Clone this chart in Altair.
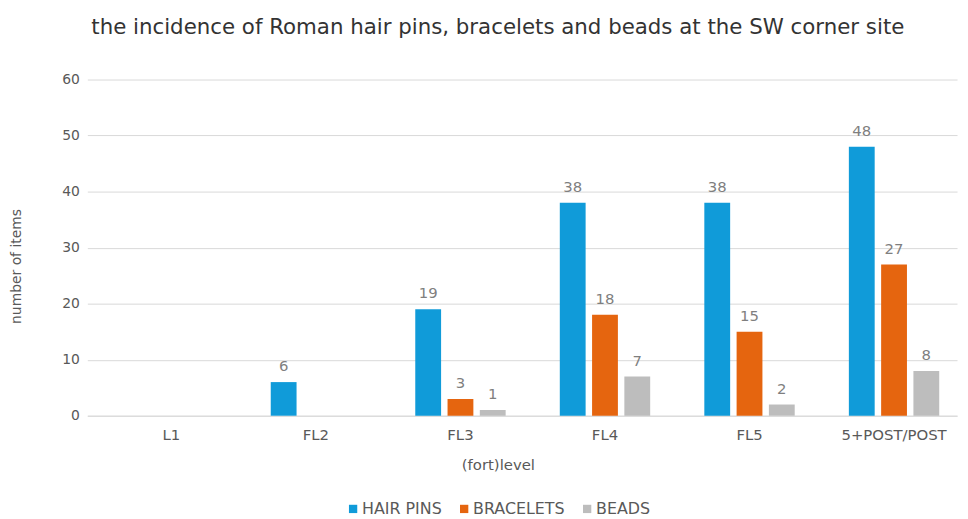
import altair as alt
import pandas as pd

levels = ["L1", "FL2", "FL3", "FL4", "FL5", "5+POST/POST"]
series = ["HAIR PINS", "BRACELETS", "BEADS"]
hair_pins = [0, 6, 19, 38, 38, 48]
bracelets = [0, 0, 3, 18, 15, 27]
beads = [0, 0, 1, 7, 2, 8]
colors = ["#109bd9", "#e5650f", "#bdbdbd"]

rows = []
for name, vals in zip(series, [hair_pins, bracelets, beads]):
    for lvl, v in zip(levels, vals):
        rows.append({"level": lvl, "series": name, "value": v})
df = pd.DataFrame(rows)

FONT = "DejaVu Sans"
GREY = "#595959"

base = alt.Chart(df).encode(
    x=alt.X("level:N", sort=levels,
            scale=alt.Scale(paddingInner=0.33, paddingOuter=0.1737, align=0.71),
            axis=alt.Axis(title="(fort)level", labelAngle=0, ticks=False,
                          domainColor="#d9d9d9", labelPadding=12,
                          labelFont=FONT, labelFontSize=15, labelColor=GREY,
                          titleFont=FONT, titleFontSize=15, titleColor=GREY,
                          titleFontWeight="normal", titleX=414, titleY=49,
                          titleBaseline="middle", titleAlign="center")),
    xOffset=alt.XOffset("series:N", sort=series,
                        scale=alt.Scale(paddingInner=0.2, paddingOuter=0.1)),
)

bars = base.mark_bar().encode(
    y=alt.Y("value:Q", scale=alt.Scale(domain=[0, 60]),
            axis=alt.Axis(title="number of items", values=[0, 10, 20, 30, 40, 50, 60],
                          domain=False, ticks=False, gridColor="#d9d9d9",
                          labelPadding=8, labelFont=FONT, labelFontSize=14,
                          labelColor=GREY, titleFont=FONT, titleFontSize=14,
                          titleColor=GREY, titleFontWeight="normal",
                          titleX=-71, titleY=188, titleAlign="center",
                          titleBaseline="middle")),
    color=alt.Color("series:N", sort=series,
                    scale=alt.Scale(domain=series, range=colors),
                    legend=alt.Legend(title=None, orient="none", direction="horizontal",
                                      legendX=260, legendY=425, symbolType="square",
                                      symbolSize=70, symbolStrokeWidth=0,
                                      labelFont=FONT, labelFontSize=16, labelColor=GREY,
                                      columnPadding=14, labelOffset=1)),
)

labels = base.transform_filter(alt.datum.value > 0).mark_text(
    baseline="bottom", dy=-8, font=FONT, fontSize=15, color="#7f7f7f"
).encode(
    y=alt.Y("value:Q"),
    text=alt.Text("value:Q"),
)

chart = alt.layer(bars, labels).properties(
    width=877, height=339,
    title=alt.TitleParams("the incidence of Roman hair pins, bracelets and beads at the SW corner site",
                          anchor="start", frame="group", dx=4, offset=34, font=FONT,
                          fontSize=21.5, fontWeight="normal", color="#333333"),
    autosize=alt.AutoSizeParams(type="none"),
    padding={"left": 80, "top": 70, "right": 3, "bottom": 100},
).configure_view(stroke=None)

chart.save("out.html", embed_options={"renderer": "svg", "actions": False})
